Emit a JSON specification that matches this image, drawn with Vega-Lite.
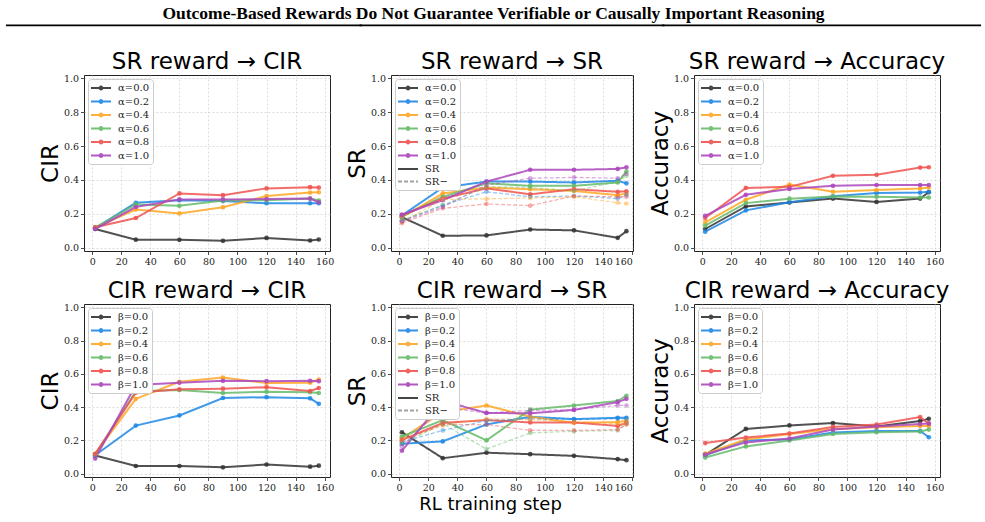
{
"$schema": "https://vega.github.io/schema/vega-lite/v6.json",
"padding": {"left": 5, "right": 5, "top": 5, "bottom": 5},
"background": "white",
"columns": 3,
"bounds": "flush",
"spacing": {"row": 53, "column": 61},
"resolve": {"scale": {"color": "independent", "x": "independent", "y": "independent", "opacity": "independent", "strokeDash": "independent", "strokeWidth": "independent"}, "legend": {"color": "independent"}},
"datasets": {"d": [
{"p":"a","s":"α=0.0","k":"SR","x":2,"y":0.11},{"p":"a","s":"α=0.0","k":"SR","x":30,"y":0.047},{"p":"a","s":"α=0.0","k":"SR","x":60,"y":0.046},{"p":"a","s":"α=0.0","k":"SR","x":90,"y":0.04},{"p":"a","s":"α=0.0","k":"SR","x":120,"y":0.057},{"p":"a","s":"α=0.0","k":"SR","x":150,"y":0.042},{"p":"a","s":"α=0.0","k":"SR","x":156,"y":0.048},
{"p":"a","s":"α=0.2","k":"SR","x":2,"y":0.115},{"p":"a","s":"α=0.2","k":"SR","x":30,"y":0.265},{"p":"a","s":"α=0.2","k":"SR","x":60,"y":0.28},{"p":"a","s":"α=0.2","k":"SR","x":90,"y":0.275},{"p":"a","s":"α=0.2","k":"SR","x":120,"y":0.262},{"p":"a","s":"α=0.2","k":"SR","x":150,"y":0.262},{"p":"a","s":"α=0.2","k":"SR","x":156,"y":0.262},
{"p":"a","s":"α=0.4","k":"SR","x":2,"y":0.12},{"p":"a","s":"α=0.4","k":"SR","x":30,"y":0.225},{"p":"a","s":"α=0.4","k":"SR","x":60,"y":0.202},{"p":"a","s":"α=0.4","k":"SR","x":90,"y":0.238},{"p":"a","s":"α=0.4","k":"SR","x":120,"y":0.305},{"p":"a","s":"α=0.4","k":"SR","x":150,"y":0.325},{"p":"a","s":"α=0.4","k":"SR","x":156,"y":0.327},
{"p":"a","s":"α=0.6","k":"SR","x":2,"y":0.118},{"p":"a","s":"α=0.6","k":"SR","x":30,"y":0.255},{"p":"a","s":"α=0.6","k":"SR","x":60,"y":0.247},{"p":"a","s":"α=0.6","k":"SR","x":90,"y":0.278},{"p":"a","s":"α=0.6","k":"SR","x":120,"y":0.28},{"p":"a","s":"α=0.6","k":"SR","x":150,"y":0.29},{"p":"a","s":"α=0.6","k":"SR","x":156,"y":0.278},
{"p":"a","s":"α=0.8","k":"SR","x":2,"y":0.12},{"p":"a","s":"α=0.8","k":"SR","x":30,"y":0.175},{"p":"a","s":"α=0.8","k":"SR","x":60,"y":0.32},{"p":"a","s":"α=0.8","k":"SR","x":90,"y":0.31},{"p":"a","s":"α=0.8","k":"SR","x":120,"y":0.35},{"p":"a","s":"α=0.8","k":"SR","x":150,"y":0.357},{"p":"a","s":"α=0.8","k":"SR","x":156,"y":0.355},
{"p":"a","s":"α=1.0","k":"SR","x":2,"y":0.11},{"p":"a","s":"α=1.0","k":"SR","x":30,"y":0.24},{"p":"a","s":"α=1.0","k":"SR","x":60,"y":0.285},{"p":"a","s":"α=1.0","k":"SR","x":90,"y":0.285},{"p":"a","s":"α=1.0","k":"SR","x":120,"y":0.287},{"p":"a","s":"α=1.0","k":"SR","x":150,"y":0.29},{"p":"a","s":"α=1.0","k":"SR","x":156,"y":0.268},

{"p":"b","s":"α=0.0","k":"SR","x":2,"y":0.18},{"p":"b","s":"α=0.0","k":"SR","x":30,"y":0.07},{"p":"b","s":"α=0.0","k":"SR","x":60,"y":0.072},{"p":"b","s":"α=0.0","k":"SR","x":90,"y":0.107},{"p":"b","s":"α=0.0","k":"SR","x":120,"y":0.102},{"p":"b","s":"α=0.0","k":"SR","x":150,"y":0.058},{"p":"b","s":"α=0.0","k":"SR","x":156,"y":0.097},
{"p":"b","s":"α=0.2","k":"SR","x":2,"y":0.19},{"p":"b","s":"α=0.2","k":"SR","x":30,"y":0.355},{"p":"b","s":"α=0.2","k":"SR","x":60,"y":0.39},{"p":"b","s":"α=0.2","k":"SR","x":90,"y":0.39},{"p":"b","s":"α=0.2","k":"SR","x":120,"y":0.385},{"p":"b","s":"α=0.2","k":"SR","x":150,"y":0.395},{"p":"b","s":"α=0.2","k":"SR","x":156,"y":0.38},
{"p":"b","s":"α=0.4","k":"SR","x":2,"y":0.18},{"p":"b","s":"α=0.4","k":"SR","x":30,"y":0.32},{"p":"b","s":"α=0.4","k":"SR","x":60,"y":0.355},{"p":"b","s":"α=0.4","k":"SR","x":90,"y":0.345},{"p":"b","s":"α=0.4","k":"SR","x":120,"y":0.335},{"p":"b","s":"α=0.4","k":"SR","x":150,"y":0.31},{"p":"b","s":"α=0.4","k":"SR","x":156,"y":0.32},
{"p":"b","s":"α=0.6","k":"SR","x":2,"y":0.185},{"p":"b","s":"α=0.6","k":"SR","x":30,"y":0.3},{"p":"b","s":"α=0.6","k":"SR","x":60,"y":0.38},{"p":"b","s":"α=0.6","k":"SR","x":90,"y":0.365},{"p":"b","s":"α=0.6","k":"SR","x":120,"y":0.365},{"p":"b","s":"α=0.6","k":"SR","x":150,"y":0.385},{"p":"b","s":"α=0.6","k":"SR","x":156,"y":0.45},
{"p":"b","s":"α=0.8","k":"SR","x":2,"y":0.19},{"p":"b","s":"α=0.8","k":"SR","x":30,"y":0.29},{"p":"b","s":"α=0.8","k":"SR","x":60,"y":0.35},{"p":"b","s":"α=0.8","k":"SR","x":90,"y":0.315},{"p":"b","s":"α=0.8","k":"SR","x":120,"y":0.345},{"p":"b","s":"α=0.8","k":"SR","x":150,"y":0.33},{"p":"b","s":"α=0.8","k":"SR","x":156,"y":0.333},
{"p":"b","s":"α=1.0","k":"SR","x":2,"y":0.195},{"p":"b","s":"α=1.0","k":"SR","x":30,"y":0.28},{"p":"b","s":"α=1.0","k":"SR","x":60,"y":0.39},{"p":"b","s":"α=1.0","k":"SR","x":90,"y":0.46},{"p":"b","s":"α=1.0","k":"SR","x":120,"y":0.46},{"p":"b","s":"α=1.0","k":"SR","x":150,"y":0.465},{"p":"b","s":"α=1.0","k":"SR","x":156,"y":0.475},
{"p":"b","s":"α=0.2","k":"SR−","x":2,"y":0.16},{"p":"b","s":"α=0.2","k":"SR−","x":30,"y":0.25},{"p":"b","s":"α=0.2","k":"SR−","x":60,"y":0.33},{"p":"b","s":"α=0.2","k":"SR−","x":90,"y":0.3},{"p":"b","s":"α=0.2","k":"SR−","x":120,"y":0.305},{"p":"b","s":"α=0.2","k":"SR−","x":150,"y":0.29},{"p":"b","s":"α=0.2","k":"SR−","x":156,"y":0.31},
{"p":"b","s":"α=0.4","k":"SR−","x":2,"y":0.15},{"p":"b","s":"α=0.4","k":"SR−","x":30,"y":0.285},{"p":"b","s":"α=0.4","k":"SR−","x":60,"y":0.288},{"p":"b","s":"α=0.4","k":"SR−","x":90,"y":0.293},{"p":"b","s":"α=0.4","k":"SR−","x":120,"y":0.3},{"p":"b","s":"α=0.4","k":"SR−","x":150,"y":0.265},{"p":"b","s":"α=0.4","k":"SR−","x":156,"y":0.26},
{"p":"b","s":"α=0.6","k":"SR−","x":2,"y":0.16},{"p":"b","s":"α=0.6","k":"SR−","x":30,"y":0.25},{"p":"b","s":"α=0.6","k":"SR−","x":60,"y":0.36},{"p":"b","s":"α=0.6","k":"SR−","x":90,"y":0.355},{"p":"b","s":"α=0.6","k":"SR−","x":120,"y":0.335},{"p":"b","s":"α=0.6","k":"SR−","x":150,"y":0.39},{"p":"b","s":"α=0.6","k":"SR−","x":156,"y":0.425},
{"p":"b","s":"α=0.8","k":"SR−","x":2,"y":0.145},{"p":"b","s":"α=0.8","k":"SR−","x":30,"y":0.232},{"p":"b","s":"α=0.8","k":"SR−","x":60,"y":0.258},{"p":"b","s":"α=0.8","k":"SR−","x":90,"y":0.248},{"p":"b","s":"α=0.8","k":"SR−","x":120,"y":0.305},{"p":"b","s":"α=0.8","k":"SR−","x":150,"y":0.3},{"p":"b","s":"α=0.8","k":"SR−","x":156,"y":0.3},
{"p":"b","s":"α=1.0","k":"SR−","x":2,"y":0.155},{"p":"b","s":"α=1.0","k":"SR−","x":30,"y":0.24},{"p":"b","s":"α=1.0","k":"SR−","x":60,"y":0.37},{"p":"b","s":"α=1.0","k":"SR−","x":90,"y":0.41},{"p":"b","s":"α=1.0","k":"SR−","x":120,"y":0.415},{"p":"b","s":"α=1.0","k":"SR−","x":150,"y":0.41},{"p":"b","s":"α=1.0","k":"SR−","x":156,"y":0.435},

{"p":"c","s":"α=0.0","k":"SR","x":2,"y":0.11},{"p":"c","s":"α=0.0","k":"SR","x":30,"y":0.243},{"p":"c","s":"α=0.0","k":"SR","x":60,"y":0.267},{"p":"c","s":"α=0.0","k":"SR","x":90,"y":0.29},{"p":"c","s":"α=0.0","k":"SR","x":120,"y":0.27},{"p":"c","s":"α=0.0","k":"SR","x":150,"y":0.29},{"p":"c","s":"α=0.0","k":"SR","x":156,"y":0.327},
{"p":"c","s":"α=0.2","k":"SR","x":2,"y":0.094},{"p":"c","s":"α=0.2","k":"SR","x":30,"y":0.22},{"p":"c","s":"α=0.2","k":"SR","x":60,"y":0.268},{"p":"c","s":"α=0.2","k":"SR","x":90,"y":0.303},{"p":"c","s":"α=0.2","k":"SR","x":120,"y":0.323},{"p":"c","s":"α=0.2","k":"SR","x":150,"y":0.325},{"p":"c","s":"α=0.2","k":"SR","x":156,"y":0.33},
{"p":"c","s":"α=0.4","k":"SR","x":2,"y":0.149},{"p":"c","s":"α=0.4","k":"SR","x":30,"y":0.283},{"p":"c","s":"α=0.4","k":"SR","x":60,"y":0.373},{"p":"c","s":"α=0.4","k":"SR","x":90,"y":0.33},{"p":"c","s":"α=0.4","k":"SR","x":120,"y":0.34},{"p":"c","s":"α=0.4","k":"SR","x":150,"y":0.35},{"p":"c","s":"α=0.4","k":"SR","x":156,"y":0.355},
{"p":"c","s":"α=0.6","k":"SR","x":2,"y":0.13},{"p":"c","s":"α=0.6","k":"SR","x":30,"y":0.263},{"p":"c","s":"α=0.6","k":"SR","x":60,"y":0.289},{"p":"c","s":"α=0.6","k":"SR","x":90,"y":0.302},{"p":"c","s":"α=0.6","k":"SR","x":120,"y":0.3},{"p":"c","s":"α=0.6","k":"SR","x":150,"y":0.296},{"p":"c","s":"α=0.6","k":"SR","x":156,"y":0.296},
{"p":"c","s":"α=0.8","k":"SR","x":2,"y":0.175},{"p":"c","s":"α=0.8","k":"SR","x":30,"y":0.353},{"p":"c","s":"α=0.8","k":"SR","x":60,"y":0.359},{"p":"c","s":"α=0.8","k":"SR","x":90,"y":0.424},{"p":"c","s":"α=0.8","k":"SR","x":120,"y":0.43},{"p":"c","s":"α=0.8","k":"SR","x":150,"y":0.473},{"p":"c","s":"α=0.8","k":"SR","x":156,"y":0.475},
{"p":"c","s":"α=1.0","k":"SR","x":2,"y":0.188},{"p":"c","s":"α=1.0","k":"SR","x":30,"y":0.312},{"p":"c","s":"α=1.0","k":"SR","x":60,"y":0.347},{"p":"c","s":"α=1.0","k":"SR","x":90,"y":0.365},{"p":"c","s":"α=1.0","k":"SR","x":120,"y":0.37},{"p":"c","s":"α=1.0","k":"SR","x":150,"y":0.37},{"p":"c","s":"α=1.0","k":"SR","x":156,"y":0.37},

{"p":"d","s":"β=0.0","k":"SR","x":2,"y":0.109},{"p":"d","s":"β=0.0","k":"SR","x":30,"y":0.046},{"p":"d","s":"β=0.0","k":"SR","x":60,"y":0.046},{"p":"d","s":"β=0.0","k":"SR","x":90,"y":0.038},{"p":"d","s":"β=0.0","k":"SR","x":120,"y":0.055},{"p":"d","s":"β=0.0","k":"SR","x":150,"y":0.042},{"p":"d","s":"β=0.0","k":"SR","x":156,"y":0.048},
{"p":"d","s":"β=0.2","k":"SR","x":2,"y":0.111},{"p":"d","s":"β=0.2","k":"SR","x":30,"y":0.289},{"p":"d","s":"β=0.2","k":"SR","x":60,"y":0.35},{"p":"d","s":"β=0.2","k":"SR","x":90,"y":0.455},{"p":"d","s":"β=0.2","k":"SR","x":120,"y":0.46},{"p":"d","s":"β=0.2","k":"SR","x":150,"y":0.453},{"p":"d","s":"β=0.2","k":"SR","x":156,"y":0.42},
{"p":"d","s":"β=0.4","k":"SR","x":2,"y":0.119},{"p":"d","s":"β=0.4","k":"SR","x":30,"y":0.45},{"p":"d","s":"β=0.4","k":"SR","x":60,"y":0.552},{"p":"d","s":"β=0.4","k":"SR","x":90,"y":0.578},{"p":"d","s":"β=0.4","k":"SR","x":120,"y":0.545},{"p":"d","s":"β=0.4","k":"SR","x":150,"y":0.547},{"p":"d","s":"β=0.4","k":"SR","x":156,"y":0.566},
{"p":"d","s":"β=0.6","k":"SR","x":2,"y":0.115},{"p":"d","s":"β=0.6","k":"SR","x":30,"y":0.495},{"p":"d","s":"β=0.6","k":"SR","x":60,"y":0.503},{"p":"d","s":"β=0.6","k":"SR","x":90,"y":0.485},{"p":"d","s":"β=0.6","k":"SR","x":120,"y":0.493},{"p":"d","s":"β=0.6","k":"SR","x":150,"y":0.49},{"p":"d","s":"β=0.6","k":"SR","x":156,"y":0.485},
{"p":"d","s":"β=0.8","k":"SR","x":2,"y":0.119},{"p":"d","s":"β=0.8","k":"SR","x":30,"y":0.487},{"p":"d","s":"β=0.8","k":"SR","x":60,"y":0.507},{"p":"d","s":"β=0.8","k":"SR","x":90,"y":0.511},{"p":"d","s":"β=0.8","k":"SR","x":120,"y":0.52},{"p":"d","s":"β=0.8","k":"SR","x":150,"y":0.497},{"p":"d","s":"β=0.8","k":"SR","x":156,"y":0.515},
{"p":"d","s":"β=1.0","k":"SR","x":2,"y":0.091},{"p":"d","s":"β=1.0","k":"SR","x":30,"y":0.533},{"p":"d","s":"β=1.0","k":"SR","x":60,"y":0.547},{"p":"d","s":"β=1.0","k":"SR","x":90,"y":0.558},{"p":"d","s":"β=1.0","k":"SR","x":120,"y":0.556},{"p":"d","s":"β=1.0","k":"SR","x":150,"y":0.558},{"p":"d","s":"β=1.0","k":"SR","x":156,"y":0.556},

{"p":"e","s":"β=0.0","k":"SR","x":2,"y":0.249},{"p":"e","s":"β=0.0","k":"SR","x":30,"y":0.093},{"p":"e","s":"β=0.0","k":"SR","x":60,"y":0.126},{"p":"e","s":"β=0.0","k":"SR","x":90,"y":0.117},{"p":"e","s":"β=0.0","k":"SR","x":120,"y":0.107},{"p":"e","s":"β=0.0","k":"SR","x":150,"y":0.087},{"p":"e","s":"β=0.0","k":"SR","x":156,"y":0.081},
{"p":"e","s":"β=0.2","k":"SR","x":2,"y":0.18},{"p":"e","s":"β=0.2","k":"SR","x":30,"y":0.194},{"p":"e","s":"β=0.2","k":"SR","x":60,"y":0.296},{"p":"e","s":"β=0.2","k":"SR","x":90,"y":0.342},{"p":"e","s":"β=0.2","k":"SR","x":120,"y":0.328},{"p":"e","s":"β=0.2","k":"SR","x":150,"y":0.336},{"p":"e","s":"β=0.2","k":"SR","x":156,"y":0.336},
{"p":"e","s":"β=0.4","k":"SR","x":2,"y":0.213},{"p":"e","s":"β=0.4","k":"SR","x":30,"y":0.37},{"p":"e","s":"β=0.4","k":"SR","x":60,"y":0.41},{"p":"e","s":"β=0.4","k":"SR","x":90,"y":0.342},{"p":"e","s":"β=0.4","k":"SR","x":120,"y":0.306},{"p":"e","s":"β=0.4","k":"SR","x":150,"y":0.31},{"p":"e","s":"β=0.4","k":"SR","x":156,"y":0.318},
{"p":"e","s":"β=0.6","k":"SR","x":2,"y":0.223},{"p":"e","s":"β=0.6","k":"SR","x":30,"y":0.322},{"p":"e","s":"β=0.6","k":"SR","x":60,"y":0.2},{"p":"e","s":"β=0.6","k":"SR","x":90,"y":0.385},{"p":"e","s":"β=0.6","k":"SR","x":120,"y":0.41},{"p":"e","s":"β=0.6","k":"SR","x":150,"y":0.437},{"p":"e","s":"β=0.6","k":"SR","x":156,"y":0.468},
{"p":"e","s":"β=0.8","k":"SR","x":2,"y":0.203},{"p":"e","s":"β=0.8","k":"SR","x":30,"y":0.305},{"p":"e","s":"β=0.8","k":"SR","x":60,"y":0.322},{"p":"e","s":"β=0.8","k":"SR","x":90,"y":0.308},{"p":"e","s":"β=0.8","k":"SR","x":120,"y":0.308},{"p":"e","s":"β=0.8","k":"SR","x":150,"y":0.287},{"p":"e","s":"β=0.8","k":"SR","x":156,"y":0.306},
{"p":"e","s":"β=1.0","k":"SR","x":2,"y":0.138},{"p":"e","s":"β=1.0","k":"SR","x":30,"y":0.438},{"p":"e","s":"β=1.0","k":"SR","x":60,"y":0.365},{"p":"e","s":"β=1.0","k":"SR","x":90,"y":0.363},{"p":"e","s":"β=1.0","k":"SR","x":120,"y":0.383},{"p":"e","s":"β=1.0","k":"SR","x":150,"y":0.43},{"p":"e","s":"β=1.0","k":"SR","x":156,"y":0.45},
{"p":"e","s":"β=0.2","k":"SR−","x":2,"y":0.19},{"p":"e","s":"β=0.2","k":"SR−","x":30,"y":0.26},{"p":"e","s":"β=0.2","k":"SR−","x":60,"y":0.32},{"p":"e","s":"β=0.2","k":"SR−","x":90,"y":0.33},{"p":"e","s":"β=0.2","k":"SR−","x":120,"y":0.325},{"p":"e","s":"β=0.2","k":"SR−","x":150,"y":0.33},{"p":"e","s":"β=0.2","k":"SR−","x":156,"y":0.33},
{"p":"e","s":"β=0.4","k":"SR−","x":2,"y":0.2},{"p":"e","s":"β=0.4","k":"SR−","x":30,"y":0.29},{"p":"e","s":"β=0.4","k":"SR−","x":60,"y":0.33},{"p":"e","s":"β=0.4","k":"SR−","x":90,"y":0.325},{"p":"e","s":"β=0.4","k":"SR−","x":120,"y":0.31},{"p":"e","s":"β=0.4","k":"SR−","x":150,"y":0.3},{"p":"e","s":"β=0.4","k":"SR−","x":156,"y":0.3},
{"p":"e","s":"β=0.6","k":"SR−","x":2,"y":0.18},{"p":"e","s":"β=0.6","k":"SR−","x":30,"y":0.3},{"p":"e","s":"β=0.6","k":"SR−","x":60,"y":0.148},{"p":"e","s":"β=0.6","k":"SR−","x":90,"y":0.245},{"p":"e","s":"β=0.6","k":"SR−","x":120,"y":0.255},{"p":"e","s":"β=0.6","k":"SR−","x":150,"y":0.26},{"p":"e","s":"β=0.6","k":"SR−","x":156,"y":0.3},
{"p":"e","s":"β=0.8","k":"SR−","x":2,"y":0.2},{"p":"e","s":"β=0.8","k":"SR−","x":30,"y":0.295},{"p":"e","s":"β=0.8","k":"SR−","x":60,"y":0.295},{"p":"e","s":"β=0.8","k":"SR−","x":90,"y":0.26},{"p":"e","s":"β=0.8","k":"SR−","x":120,"y":0.26},{"p":"e","s":"β=0.8","k":"SR−","x":150,"y":0.265},{"p":"e","s":"β=0.8","k":"SR−","x":156,"y":0.295},
{"p":"e","s":"β=1.0","k":"SR−","x":2,"y":0.165},{"p":"e","s":"β=1.0","k":"SR−","x":30,"y":0.4},{"p":"e","s":"β=1.0","k":"SR−","x":60,"y":0.365},{"p":"e","s":"β=1.0","k":"SR−","x":90,"y":0.38},{"p":"e","s":"β=1.0","k":"SR−","x":120,"y":0.385},{"p":"e","s":"β=1.0","k":"SR−","x":150,"y":0.41},{"p":"e","s":"β=1.0","k":"SR−","x":156,"y":0.41},

{"p":"f","s":"β=0.0","k":"SR","x":2,"y":0.113},{"p":"f","s":"β=0.0","k":"SR","x":30,"y":0.269},{"p":"f","s":"β=0.0","k":"SR","x":60,"y":0.29},{"p":"f","s":"β=0.0","k":"SR","x":90,"y":0.304},{"p":"f","s":"β=0.0","k":"SR","x":120,"y":0.283},{"p":"f","s":"β=0.0","k":"SR","x":150,"y":0.316},{"p":"f","s":"β=0.0","k":"SR","x":156,"y":0.33},
{"p":"f","s":"β=0.2","k":"SR","x":2,"y":0.111},{"p":"f","s":"β=0.2","k":"SR","x":30,"y":0.2},{"p":"f","s":"β=0.2","k":"SR","x":60,"y":0.205},{"p":"f","s":"β=0.2","k":"SR","x":90,"y":0.247},{"p":"f","s":"β=0.2","k":"SR","x":120,"y":0.257},{"p":"f","s":"β=0.2","k":"SR","x":150,"y":0.257},{"p":"f","s":"β=0.2","k":"SR","x":156,"y":0.219},
{"p":"f","s":"β=0.4","k":"SR","x":2,"y":0.12},{"p":"f","s":"β=0.4","k":"SR","x":30,"y":0.205},{"p":"f","s":"β=0.4","k":"SR","x":60,"y":0.239},{"p":"f","s":"β=0.4","k":"SR","x":90,"y":0.267},{"p":"f","s":"β=0.4","k":"SR","x":120,"y":0.279},{"p":"f","s":"β=0.4","k":"SR","x":150,"y":0.287},{"p":"f","s":"β=0.4","k":"SR","x":156,"y":0.287},
{"p":"f","s":"β=0.6","k":"SR","x":2,"y":0.097},{"p":"f","s":"β=0.6","k":"SR","x":30,"y":0.164},{"p":"f","s":"β=0.6","k":"SR","x":60,"y":0.2},{"p":"f","s":"β=0.6","k":"SR","x":90,"y":0.239},{"p":"f","s":"β=0.6","k":"SR","x":120,"y":0.249},{"p":"f","s":"β=0.6","k":"SR","x":150,"y":0.253},{"p":"f","s":"β=0.6","k":"SR","x":156,"y":0.265},
{"p":"f","s":"β=0.8","k":"SR","x":2,"y":0.184},{"p":"f","s":"β=0.8","k":"SR","x":30,"y":0.217},{"p":"f","s":"β=0.8","k":"SR","x":60,"y":0.241},{"p":"f","s":"β=0.8","k":"SR","x":90,"y":0.281},{"p":"f","s":"β=0.8","k":"SR","x":120,"y":0.295},{"p":"f","s":"β=0.8","k":"SR","x":150,"y":0.34},{"p":"f","s":"β=0.8","k":"SR","x":156,"y":0.3},
{"p":"f","s":"β=1.0","k":"SR","x":2,"y":0.115},{"p":"f","s":"β=1.0","k":"SR","x":30,"y":0.188},{"p":"f","s":"β=1.0","k":"SR","x":60,"y":0.211},{"p":"f","s":"β=1.0","k":"SR","x":90,"y":0.265},{"p":"f","s":"β=1.0","k":"SR","x":120,"y":0.283},{"p":"f","s":"β=1.0","k":"SR","x":150,"y":0.298},{"p":"f","s":"β=1.0","k":"SR","x":156,"y":0.302}
]},
"concat": [
{"width": 246, "height": 10, "view": {"stroke": null},
 "data": {"values": [{"part": "header rule, left"}]},
 "mark": {"type": "rule", "color": "#000000", "strokeWidth": 1.8, "clip": false},
 "encoding": {"x": {"datum": -0.3171, "type": "quantitative", "scale": {"domain": [0, 1], "nice": false, "zero": false}, "axis": null}, "x2": {"datum": 1.13}, "y": {"datum": -0.33, "type": "quantitative", "scale": {"domain": [0, 1], "nice": false, "zero": false}, "axis": null}}},
{"width": 242, "height": 10, "view": {"stroke": null},
 "data": {"values": [{"t": "Outcome-Based Rewards Do Not Guarantee Verifiable or Causally Important Reasoning"}]},
 "layer": [
  {"mark": {"type": "rule", "color": "#000000", "strokeWidth": 1.8, "clip": false},
   "encoding": {"x": {"datum": -0.13, "type": "quantitative", "scale": {"domain": [0, 1], "nice": false, "zero": false}, "axis": null}, "x2": {"datum": 1.13}, "y": {"datum": -0.33, "type": "quantitative", "scale": {"domain": [0, 1], "nice": false, "zero": false}, "axis": null}}},
  {"mark": {"type": "text", "font": "Liberation Serif", "fontSize": 17.5, "fontWeight": "bold", "align": "center", "baseline": "alphabetic", "color": "#000000", "clip": false},
   "encoding": {"text": {"field": "t"}, "x": {"datum": 0.4236, "type": "quantitative"}, "y": {"datum": 0.3, "type": "quantitative"}}}
 ]},
{"width": 246, "height": 10, "view": {"stroke": null},
 "data": {"values": [{"part": "header rule, right"}]},
 "mark": {"type": "rule", "color": "#000000", "strokeWidth": 1.8, "clip": false},
 "encoding": {"x": {"datum": -0.13, "type": "quantitative", "scale": {"domain": [0, 1], "nice": false, "zero": false}, "axis": null}, "x2": {"datum": 1.1667}, "y": {"datum": -0.33, "type": "quantitative", "scale": {"domain": [0, 1], "nice": false, "zero": false}, "axis": null}}},
{"width": 246, "height": 176, "title": "SR reward → CIR",
 "data": {"name": "d"}, "transform": [{"filter": "datum.p === 'a'"}],
 "encoding": {
  "x": {"field": "x", "type": "quantitative", "scale": {"domain": [-5.7, 163.7], "nice": false, "zero": false}, "axis": {"values": [0,20,40,60,80,100,120,140,160], "title": null}},
  "y": {"field": "y", "type": "quantitative", "scale": {"domain": [-0.02, 1.02], "nice": false, "zero": false}, "axis": {"values": [0,0.2,0.4,0.6,0.8,1], "format": ".1f", "title": "CIR"}},
  "color": {"field": "s", "type": "nominal", "scale": {"domain": ["α=0.0","α=0.2","α=0.4","α=0.6","α=0.8","α=1.0"], "range": ["#333333","#1E88E5","#FFA726","#66BB6A","#EF5350","#AB47BC"]},
   "legend": {"title": null, "encode": {"symbols": {"update": {"shape": {"signal": "datum.value === 'SR' || datum.value === 'SR−' ? 'M-2,0L2,0' : 'M-2,0L2,0M-0.28,0A0.28,0.28,0,1,0,0.28,0A0.28,0.28,0,1,0,-0.28,0Z'"}, "strokeDash": {"signal": "datum.value === 'SR−' ? [4,2] : [1,0]"}, "stroke": {"signal": "({'α=0.0':'#333333','α=0.2':'#1E88E5','α=0.4':'#FFA726','α=0.6':'#66BB6A','α=0.8':'#EF5350','α=1.0':'#AB47BC','β=0.0':'#333333','β=0.2':'#1E88E5','β=0.4':'#FFA726','β=0.6':'#66BB6A','β=0.8':'#EF5350','β=1.0':'#AB47BC','SR':'#333333','SR−':'#999999'})[datum.value]"}, "fill": {"signal": "({'α=0.0':'#333333','α=0.2':'#1E88E5','α=0.4':'#FFA726','α=0.6':'#66BB6A','α=0.8':'#EF5350','α=1.0':'#AB47BC','β=0.0':'#333333','β=0.2':'#1E88E5','β=0.4':'#FFA726','β=0.6':'#66BB6A','β=0.8':'#EF5350','β=1.0':'#AB47BC','SR':'#333333','SR−':'#999999'})[datum.value]"}, "opacity": {"value": 0.9}, "strokeWidth": {"value": 2}}}}}}
 },
 "layer": [
  {"mark": {"type": "line"}, "encoding": {"detail": {"field": "k"}, "strokeWidth": {"field": "k", "type": "ordinal", "scale": {"domain": ["SR","SR−"], "range": [2,1.3]}, "legend": null}, "opacity": {"field": "k", "type": "ordinal", "scale": {"domain": ["SR","SR−"], "range": [0.85,0.45]}, "legend": null}}},
  {"mark": {"type": "point", "filled": true, "size": 22}, "encoding": {"opacity": {"field": "k", "type": "ordinal", "scale": {"domain": ["SR","SR−"], "range": [0.85,0.45]}, "legend": null}}}
 ]},
{"width": 242, "height": 176, "title": "SR reward → SR",
 "data": {"name": "d"}, "transform": [{"filter": "datum.p === 'b'"}],
 "encoding": {
  "x": {"field": "x", "type": "quantitative", "scale": {"domain": [-5.5, 160.5], "nice": false, "zero": false}, "axis": {"values": [0,20,40,60,80,100,120,140,160], "title": null}},
  "y": {"field": "y", "type": "quantitative", "scale": {"domain": [-0.02, 1.02], "nice": false, "zero": false}, "axis": {"values": [0,0.2,0.4,0.6,0.8,1], "format": ".1f", "title": "SR"}},
  "color": {"field": "s", "type": "nominal", "scale": {"domain": ["α=0.0","α=0.2","α=0.4","α=0.6","α=0.8","α=1.0","SR","SR−"], "range": ["#333333","#1E88E5","#FFA726","#66BB6A","#EF5350","#AB47BC","#333333","#999999"]},
   "legend": {"title": null, "encode": {"symbols": {"update": {"shape": {"signal": "datum.value === 'SR' || datum.value === 'SR−' ? 'M-2,0L2,0' : 'M-2,0L2,0M-0.28,0A0.28,0.28,0,1,0,0.28,0A0.28,0.28,0,1,0,-0.28,0Z'"}, "strokeDash": {"signal": "datum.value === 'SR−' ? [4,2] : [1,0]"}, "stroke": {"signal": "({'α=0.0':'#333333','α=0.2':'#1E88E5','α=0.4':'#FFA726','α=0.6':'#66BB6A','α=0.8':'#EF5350','α=1.0':'#AB47BC','β=0.0':'#333333','β=0.2':'#1E88E5','β=0.4':'#FFA726','β=0.6':'#66BB6A','β=0.8':'#EF5350','β=1.0':'#AB47BC','SR':'#333333','SR−':'#999999'})[datum.value]"}, "fill": {"signal": "({'α=0.0':'#333333','α=0.2':'#1E88E5','α=0.4':'#FFA726','α=0.6':'#66BB6A','α=0.8':'#EF5350','α=1.0':'#AB47BC','β=0.0':'#333333','β=0.2':'#1E88E5','β=0.4':'#FFA726','β=0.6':'#66BB6A','β=0.8':'#EF5350','β=1.0':'#AB47BC','SR':'#333333','SR−':'#999999'})[datum.value]"}, "opacity": {"value": 0.9}, "strokeWidth": {"value": 2}}}}}}
 },
 "layer": [
  {"mark": {"type": "line"}, "encoding": {"detail": {"field": "k"}, "strokeDash": {"field": "k", "type": "nominal", "scale": {"domain": ["SR","SR−"], "range": [[1,0],[4,2]]}, "legend": null}, "strokeWidth": {"field": "k", "type": "ordinal", "scale": {"domain": ["SR","SR−"], "range": [2,1.3]}, "legend": null}, "opacity": {"field": "k", "type": "ordinal", "scale": {"domain": ["SR","SR−"], "range": [0.85,0.45]}, "legend": null}}},
  {"mark": {"type": "point", "filled": true, "size": 22}, "encoding": {"opacity": {"field": "k", "type": "ordinal", "scale": {"domain": ["SR","SR−"], "range": [0.85,0.45]}, "legend": null}}}
 ]},
{"width": 246, "height": 176, "title": "SR reward → Accuracy",
 "data": {"name": "d"}, "transform": [{"filter": "datum.p === 'c'"}],
 "encoding": {
  "x": {"field": "x", "type": "quantitative", "scale": {"domain": [-5.7, 163.7], "nice": false, "zero": false}, "axis": {"values": [0,20,40,60,80,100,120,140,160], "title": null}},
  "y": {"field": "y", "type": "quantitative", "scale": {"domain": [-0.02, 1.02], "nice": false, "zero": false}, "axis": {"values": [0,0.2,0.4,0.6,0.8,1], "format": ".1f", "title": "Accuracy"}},
  "color": {"field": "s", "type": "nominal", "scale": {"domain": ["α=0.0","α=0.2","α=0.4","α=0.6","α=0.8","α=1.0"], "range": ["#333333","#1E88E5","#FFA726","#66BB6A","#EF5350","#AB47BC"]},
   "legend": {"title": null, "encode": {"symbols": {"update": {"shape": {"signal": "datum.value === 'SR' || datum.value === 'SR−' ? 'M-2,0L2,0' : 'M-2,0L2,0M-0.28,0A0.28,0.28,0,1,0,0.28,0A0.28,0.28,0,1,0,-0.28,0Z'"}, "strokeDash": {"signal": "datum.value === 'SR−' ? [4,2] : [1,0]"}, "stroke": {"signal": "({'α=0.0':'#333333','α=0.2':'#1E88E5','α=0.4':'#FFA726','α=0.6':'#66BB6A','α=0.8':'#EF5350','α=1.0':'#AB47BC','β=0.0':'#333333','β=0.2':'#1E88E5','β=0.4':'#FFA726','β=0.6':'#66BB6A','β=0.8':'#EF5350','β=1.0':'#AB47BC','SR':'#333333','SR−':'#999999'})[datum.value]"}, "fill": {"signal": "({'α=0.0':'#333333','α=0.2':'#1E88E5','α=0.4':'#FFA726','α=0.6':'#66BB6A','α=0.8':'#EF5350','α=1.0':'#AB47BC','β=0.0':'#333333','β=0.2':'#1E88E5','β=0.4':'#FFA726','β=0.6':'#66BB6A','β=0.8':'#EF5350','β=1.0':'#AB47BC','SR':'#333333','SR−':'#999999'})[datum.value]"}, "opacity": {"value": 0.9}, "strokeWidth": {"value": 2}}}}}}
 },
 "layer": [
  {"mark": {"type": "line"}, "encoding": {"detail": {"field": "k"}, "strokeWidth": {"field": "k", "type": "ordinal", "scale": {"domain": ["SR","SR−"], "range": [2,1.3]}, "legend": null}, "opacity": {"field": "k", "type": "ordinal", "scale": {"domain": ["SR","SR−"], "range": [0.85,0.45]}, "legend": null}}},
  {"mark": {"type": "point", "filled": true, "size": 22}, "encoding": {"opacity": {"field": "k", "type": "ordinal", "scale": {"domain": ["SR","SR−"], "range": [0.85,0.45]}, "legend": null}}}
 ]},
{"width": 246, "height": 173, "title": "CIR reward → CIR",
 "data": {"name": "d"}, "transform": [{"filter": "datum.p === 'd'"}],
 "encoding": {
  "x": {"field": "x", "type": "quantitative", "scale": {"domain": [-5.7, 163.7], "nice": false, "zero": false}, "axis": {"values": [0,20,40,60,80,100,120,140,160], "title": null}},
  "y": {"field": "y", "type": "quantitative", "scale": {"domain": [-0.02, 1.02], "nice": false, "zero": false}, "axis": {"values": [0,0.2,0.4,0.6,0.8,1], "format": ".1f", "title": "CIR"}},
  "color": {"field": "s", "type": "nominal", "scale": {"domain": ["β=0.0","β=0.2","β=0.4","β=0.6","β=0.8","β=1.0"], "range": ["#333333","#1E88E5","#FFA726","#66BB6A","#EF5350","#AB47BC"]},
   "legend": {"title": null, "encode": {"symbols": {"update": {"shape": {"signal": "datum.value === 'SR' || datum.value === 'SR−' ? 'M-2,0L2,0' : 'M-2,0L2,0M-0.28,0A0.28,0.28,0,1,0,0.28,0A0.28,0.28,0,1,0,-0.28,0Z'"}, "strokeDash": {"signal": "datum.value === 'SR−' ? [4,2] : [1,0]"}, "stroke": {"signal": "({'α=0.0':'#333333','α=0.2':'#1E88E5','α=0.4':'#FFA726','α=0.6':'#66BB6A','α=0.8':'#EF5350','α=1.0':'#AB47BC','β=0.0':'#333333','β=0.2':'#1E88E5','β=0.4':'#FFA726','β=0.6':'#66BB6A','β=0.8':'#EF5350','β=1.0':'#AB47BC','SR':'#333333','SR−':'#999999'})[datum.value]"}, "fill": {"signal": "({'α=0.0':'#333333','α=0.2':'#1E88E5','α=0.4':'#FFA726','α=0.6':'#66BB6A','α=0.8':'#EF5350','α=1.0':'#AB47BC','β=0.0':'#333333','β=0.2':'#1E88E5','β=0.4':'#FFA726','β=0.6':'#66BB6A','β=0.8':'#EF5350','β=1.0':'#AB47BC','SR':'#333333','SR−':'#999999'})[datum.value]"}, "opacity": {"value": 0.9}, "strokeWidth": {"value": 2}}}}}}
 },
 "layer": [
  {"mark": {"type": "line"}, "encoding": {"detail": {"field": "k"}, "strokeWidth": {"field": "k", "type": "ordinal", "scale": {"domain": ["SR","SR−"], "range": [2,1.3]}, "legend": null}, "opacity": {"field": "k", "type": "ordinal", "scale": {"domain": ["SR","SR−"], "range": [0.85,0.45]}, "legend": null}}},
  {"mark": {"type": "point", "filled": true, "size": 22}, "encoding": {"opacity": {"field": "k", "type": "ordinal", "scale": {"domain": ["SR","SR−"], "range": [0.85,0.45]}, "legend": null}}}
 ]},
{"width": 242, "height": 173, "title": "CIR reward → SR",
 "data": {"name": "d"}, "transform": [{"filter": "datum.p === 'e'"}],
 "encoding": {
  "x": {"field": "x", "type": "quantitative", "scale": {"domain": [-5.5, 160.5], "nice": false, "zero": false}, "axis": {"values": [0,20,40,60,80,100,120,140,160], "title": "RL training step", "titleFont": "DejaVu Sans", "titleFontSize": 18, "titleX": 99, "titlePadding": 3}},
  "y": {"field": "y", "type": "quantitative", "scale": {"domain": [-0.02, 1.02], "nice": false, "zero": false}, "axis": {"values": [0,0.2,0.4,0.6,0.8,1], "format": ".1f", "title": "SR"}},
  "color": {"field": "s", "type": "nominal", "scale": {"domain": ["β=0.0","β=0.2","β=0.4","β=0.6","β=0.8","β=1.0","SR","SR−"], "range": ["#333333","#1E88E5","#FFA726","#66BB6A","#EF5350","#AB47BC","#333333","#999999"]},
   "legend": {"title": null, "encode": {"symbols": {"update": {"shape": {"signal": "datum.value === 'SR' || datum.value === 'SR−' ? 'M-2,0L2,0' : 'M-2,0L2,0M-0.28,0A0.28,0.28,0,1,0,0.28,0A0.28,0.28,0,1,0,-0.28,0Z'"}, "strokeDash": {"signal": "datum.value === 'SR−' ? [4,2] : [1,0]"}, "stroke": {"signal": "({'α=0.0':'#333333','α=0.2':'#1E88E5','α=0.4':'#FFA726','α=0.6':'#66BB6A','α=0.8':'#EF5350','α=1.0':'#AB47BC','β=0.0':'#333333','β=0.2':'#1E88E5','β=0.4':'#FFA726','β=0.6':'#66BB6A','β=0.8':'#EF5350','β=1.0':'#AB47BC','SR':'#333333','SR−':'#999999'})[datum.value]"}, "fill": {"signal": "({'α=0.0':'#333333','α=0.2':'#1E88E5','α=0.4':'#FFA726','α=0.6':'#66BB6A','α=0.8':'#EF5350','α=1.0':'#AB47BC','β=0.0':'#333333','β=0.2':'#1E88E5','β=0.4':'#FFA726','β=0.6':'#66BB6A','β=0.8':'#EF5350','β=1.0':'#AB47BC','SR':'#333333','SR−':'#999999'})[datum.value]"}, "opacity": {"value": 0.9}, "strokeWidth": {"value": 2}}}}}}
 },
 "layer": [
  {"mark": {"type": "line"}, "encoding": {"detail": {"field": "k"}, "strokeDash": {"field": "k", "type": "nominal", "scale": {"domain": ["SR","SR−"], "range": [[1,0],[4,2]]}, "legend": null}, "strokeWidth": {"field": "k", "type": "ordinal", "scale": {"domain": ["SR","SR−"], "range": [2,1.3]}, "legend": null}, "opacity": {"field": "k", "type": "ordinal", "scale": {"domain": ["SR","SR−"], "range": [0.85,0.45]}, "legend": null}}},
  {"mark": {"type": "point", "filled": true, "size": 22}, "encoding": {"opacity": {"field": "k", "type": "ordinal", "scale": {"domain": ["SR","SR−"], "range": [0.85,0.45]}, "legend": null}}}
 ]},
{"width": 246, "height": 173, "title": "CIR reward → Accuracy",
 "data": {"name": "d"}, "transform": [{"filter": "datum.p === 'f'"}],
 "encoding": {
  "x": {"field": "x", "type": "quantitative", "scale": {"domain": [-5.7, 163.7], "nice": false, "zero": false}, "axis": {"values": [0,20,40,60,80,100,120,140,160], "title": null}},
  "y": {"field": "y", "type": "quantitative", "scale": {"domain": [-0.02, 1.02], "nice": false, "zero": false}, "axis": {"values": [0,0.2,0.4,0.6,0.8,1], "format": ".1f", "title": "Accuracy"}},
  "color": {"field": "s", "type": "nominal", "scale": {"domain": ["β=0.0","β=0.2","β=0.4","β=0.6","β=0.8","β=1.0"], "range": ["#333333","#1E88E5","#FFA726","#66BB6A","#EF5350","#AB47BC"]},
   "legend": {"title": null, "encode": {"symbols": {"update": {"shape": {"signal": "datum.value === 'SR' || datum.value === 'SR−' ? 'M-2,0L2,0' : 'M-2,0L2,0M-0.28,0A0.28,0.28,0,1,0,0.28,0A0.28,0.28,0,1,0,-0.28,0Z'"}, "strokeDash": {"signal": "datum.value === 'SR−' ? [4,2] : [1,0]"}, "stroke": {"signal": "({'α=0.0':'#333333','α=0.2':'#1E88E5','α=0.4':'#FFA726','α=0.6':'#66BB6A','α=0.8':'#EF5350','α=1.0':'#AB47BC','β=0.0':'#333333','β=0.2':'#1E88E5','β=0.4':'#FFA726','β=0.6':'#66BB6A','β=0.8':'#EF5350','β=1.0':'#AB47BC','SR':'#333333','SR−':'#999999'})[datum.value]"}, "fill": {"signal": "({'α=0.0':'#333333','α=0.2':'#1E88E5','α=0.4':'#FFA726','α=0.6':'#66BB6A','α=0.8':'#EF5350','α=1.0':'#AB47BC','β=0.0':'#333333','β=0.2':'#1E88E5','β=0.4':'#FFA726','β=0.6':'#66BB6A','β=0.8':'#EF5350','β=1.0':'#AB47BC','SR':'#333333','SR−':'#999999'})[datum.value]"}, "opacity": {"value": 0.9}, "strokeWidth": {"value": 2}}}}}}
 },
 "layer": [
  {"mark": {"type": "line"}, "encoding": {"detail": {"field": "k"}, "strokeWidth": {"field": "k", "type": "ordinal", "scale": {"domain": ["SR","SR−"], "range": [2,1.3]}, "legend": null}, "opacity": {"field": "k", "type": "ordinal", "scale": {"domain": ["SR","SR−"], "range": [0.85,0.45]}, "legend": null}}},
  {"mark": {"type": "point", "filled": true, "size": 22}, "encoding": {"opacity": {"field": "k", "type": "ordinal", "scale": {"domain": ["SR","SR−"], "range": [0.85,0.45]}, "legend": null}}}
 ]}
],
"config": {
 "view": {"stroke": "#222222", "strokeWidth": 1},
 "axis": {"domain": false, "labelFont": "DejaVu Serif", "labelFontSize": 9.5, "labelColor": "#222222", "labelPadding": 2, "tickColor": "#222222", "tickSize": 3.5, "tickWidth": 0.8, "grid": true, "gridColor": "#cfcfcf", "gridDash": [2, 2], "gridWidth": 0.7, "titleFont": "DejaVu Sans", "titleFontSize": 23, "titleFontWeight": "normal", "titleColor": "#000000"},
 "axisY": {"titlePadding": 1},
 "title": {"font": "DejaVu Sans", "fontSize": 23, "fontWeight": "normal", "color": "#000000", "offset": -1, "baseline": "alphabetic", "anchor": "middle"},
 "legend": {"orient": "top-left", "offset": 4, "padding": 3, "fillColor": "#ffffff", "strokeColor": "#cccccc", "cornerRadius": 3, "labelFont": "DejaVu Serif", "labelFontSize": 10, "labelColor": "#222222", "symbolSize": 100, "symbolStrokeWidth": 2, "symbolOffset": 4, "labelOffset": 11, "rowPadding": 1.5}
}
}
